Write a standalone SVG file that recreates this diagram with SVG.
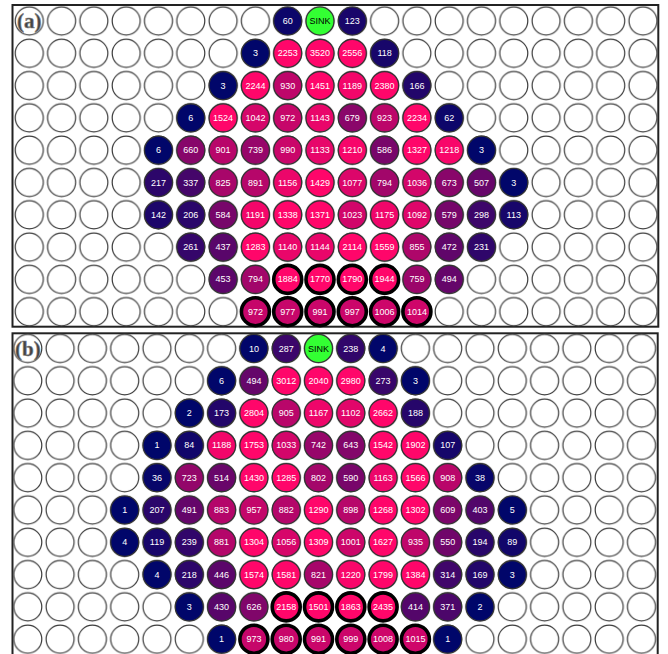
<svg xmlns="http://www.w3.org/2000/svg" xmlns:xlink="http://www.w3.org/1999/xlink" width="668" height="654" viewBox="0 0 668 654">
<style>
.frame{fill:#fff;stroke:#222;stroke-width:2}
.nodes circle{stroke:#333;stroke-width:1.2}
.nodes circle.k{stroke:#000;stroke-width:3.6}
.nodes text{fill:#fff;font-family:"Liberation Sans",Arial,sans-serif;font-size:9px;text-anchor:middle}
.nodes text.s{fill:#000}
.lbl{font-family:"Liberation Serif","Times New Roman",serif;font-weight:bold;font-size:21px;fill:#444;stroke:#888;stroke-width:0.6;text-anchor:middle}
</style>
<defs>
<pattern id="grid" patternUnits="userSpaceOnUse" x="-16.15" y="-16.15" width="32.3" height="32.3">
<circle cx="16.15" cy="16.15" r="14" fill="#fff" stroke="#3a3a3a" stroke-width="1.2"/>
</pattern>
</defs>
<rect class="frame" x="12.5" y="5" width="645.8" height="321.7"/>
<rect class="frame" x="12.5" y="333.3" width="645.2" height="330"/>
<g id="panel-a" transform="translate(29.3,21)">
<rect x="-16.15" y="-16.15" width="646" height="323" fill="url(#grid)"/>
<text class="lbl" x="0" y="7">(a)</text>
<g class="nodes">
<g id="a-r0c8"><circle cx="258.4" cy="0" r="14" fill="#0c066a"/><text x="258.4" y="3">60</text></g>
<g id="a-sink"><circle cx="290.7" cy="0" r="14" fill="#33ff33"/><text class="s" x="290.7" y="3">SINK</text></g>
<g id="a-r0c10"><circle cx="323" cy="0" r="14" fill="#19066a"/><text x="323" y="3">123</text></g>

<g id="a-r1c7"><circle cx="226.1" cy="32.3" r="14" fill="#01066a"/><text x="226.1" y="35.3">3</text></g>
<g id="a-r1c8"><circle cx="258.4" cy="32.3" r="14" fill="#ff066a"/><text x="258.4" y="35.3">2253</text></g>
<g id="a-r1c9"><circle cx="290.7" cy="32.3" r="14" fill="#ff066a"/><text x="290.7" y="35.3">3520</text></g>
<g id="a-r1c10"><circle cx="323" cy="32.3" r="14" fill="#ff066a"/><text x="323" y="35.3">2556</text></g>
<g id="a-r1c11"><circle cx="355.3" cy="32.3" r="14" fill="#18066a"/><text x="355.3" y="35.3">118</text></g>

<g id="a-r2c6"><circle cx="193.8" cy="64.6" r="14" fill="#01066a"/><text x="193.8" y="67.6">3</text></g>
<g id="a-r2c7"><circle cx="226.1" cy="64.6" r="14" fill="#ff066a"/><text x="226.1" y="67.6">2244</text></g>
<g id="a-r2c8"><circle cx="258.4" cy="64.6" r="14" fill="#be066a"/><text x="258.4" y="67.6">930</text></g>
<g id="a-r2c9"><circle cx="290.7" cy="64.6" r="14" fill="#ff066a"/><text x="290.7" y="67.6">1451</text></g>
<g id="a-r2c10"><circle cx="323" cy="64.6" r="14" fill="#f3066a"/><text x="323" y="67.6">1189</text></g>
<g id="a-r2c11"><circle cx="355.3" cy="64.6" r="14" fill="#ff066a"/><text x="355.3" y="67.6">2380</text></g>
<g id="a-r2c12"><circle cx="387.6" cy="64.6" r="14" fill="#22066a"/><text x="387.6" y="67.6">166</text></g>

<g id="a-r3c5"><circle cx="161.5" cy="96.9" r="14" fill="#01066a"/><text x="161.5" y="99.9">6</text></g>
<g id="a-r3c6"><circle cx="193.8" cy="96.9" r="14" fill="#ff066a"/><text x="193.8" y="99.9">1524</text></g>
<g id="a-r3c7"><circle cx="226.1" cy="96.9" r="14" fill="#d5066a"/><text x="226.1" y="99.9">1042</text></g>
<g id="a-r3c8"><circle cx="258.4" cy="96.9" r="14" fill="#c6066a"/><text x="258.4" y="99.9">972</text></g>
<g id="a-r3c9"><circle cx="290.7" cy="96.9" r="14" fill="#e9066a"/><text x="290.7" y="99.9">1143</text></g>
<g id="a-r3c10"><circle cx="323" cy="96.9" r="14" fill="#8a066a"/><text x="323" y="99.9">679</text></g>
<g id="a-r3c11"><circle cx="355.3" cy="96.9" r="14" fill="#bc066a"/><text x="355.3" y="99.9">923</text></g>
<g id="a-r3c12"><circle cx="387.6" cy="96.9" r="14" fill="#ff066a"/><text x="387.6" y="99.9">2234</text></g>
<g id="a-r3c13"><circle cx="419.9" cy="96.9" r="14" fill="#0d066a"/><text x="419.9" y="99.9">62</text></g>

<g id="a-r4c4"><circle cx="129.2" cy="129.2" r="14" fill="#01066a"/><text x="129.2" y="132.2">6</text></g>
<g id="a-r4c5"><circle cx="161.5" cy="129.2" r="14" fill="#87066a"/><text x="161.5" y="132.2">660</text></g>
<g id="a-r4c6"><circle cx="193.8" cy="129.2" r="14" fill="#b8066a"/><text x="193.8" y="132.2">901</text></g>
<g id="a-r4c7"><circle cx="226.1" cy="129.2" r="14" fill="#97066a"/><text x="226.1" y="132.2">739</text></g>
<g id="a-r4c8"><circle cx="258.4" cy="129.2" r="14" fill="#ca066a"/><text x="258.4" y="132.2">990</text></g>
<g id="a-r4c9"><circle cx="290.7" cy="129.2" r="14" fill="#e7066a"/><text x="290.7" y="132.2">1133</text></g>
<g id="a-r4c10"><circle cx="323" cy="129.2" r="14" fill="#f7066a"/><text x="323" y="132.2">1210</text></g>
<g id="a-r4c11"><circle cx="355.3" cy="129.2" r="14" fill="#78066a"/><text x="355.3" y="132.2">586</text></g>
<g id="a-r4c12"><circle cx="387.6" cy="129.2" r="14" fill="#ff066a"/><text x="387.6" y="132.2">1327</text></g>
<g id="a-r4c13"><circle cx="419.9" cy="129.2" r="14" fill="#f8066a"/><text x="419.9" y="132.2">1218</text></g>
<g id="a-r4c14"><circle cx="452.2" cy="129.2" r="14" fill="#01066a"/><text x="452.2" y="132.2">3</text></g>

<g id="a-r5c4"><circle cx="129.2" cy="161.5" r="14" fill="#2c066a"/><text x="129.2" y="164.5">217</text></g>
<g id="a-r5c5"><circle cx="161.5" cy="161.5" r="14" fill="#45066a"/><text x="161.5" y="164.5">337</text></g>
<g id="a-r5c6"><circle cx="193.8" cy="161.5" r="14" fill="#a8066a"/><text x="193.8" y="164.5">825</text></g>
<g id="a-r5c7"><circle cx="226.1" cy="161.5" r="14" fill="#b6066a"/><text x="226.1" y="164.5">891</text></g>
<g id="a-r5c8"><circle cx="258.4" cy="161.5" r="14" fill="#ec066a"/><text x="258.4" y="164.5">1156</text></g>
<g id="a-r5c9"><circle cx="290.7" cy="161.5" r="14" fill="#ff066a"/><text x="290.7" y="164.5">1429</text></g>
<g id="a-r5c10"><circle cx="323" cy="161.5" r="14" fill="#dc066a"/><text x="323" y="164.5">1077</text></g>
<g id="a-r5c11"><circle cx="355.3" cy="161.5" r="14" fill="#a2066a"/><text x="355.3" y="164.5">794</text></g>
<g id="a-r5c12"><circle cx="387.6" cy="161.5" r="14" fill="#d3066a"/><text x="387.6" y="164.5">1036</text></g>
<g id="a-r5c13"><circle cx="419.9" cy="161.5" r="14" fill="#89066a"/><text x="419.9" y="164.5">673</text></g>
<g id="a-r5c14"><circle cx="452.2" cy="161.5" r="14" fill="#67066a"/><text x="452.2" y="164.5">507</text></g>
<g id="a-r5c15"><circle cx="484.5" cy="161.5" r="14" fill="#01066a"/><text x="484.5" y="164.5">3</text></g>

<g id="a-r6c4"><circle cx="129.2" cy="193.8" r="14" fill="#1d066a"/><text x="129.2" y="196.8">142</text></g>
<g id="a-r6c5"><circle cx="161.5" cy="193.8" r="14" fill="#2a066a"/><text x="161.5" y="196.8">206</text></g>
<g id="a-r6c6"><circle cx="193.8" cy="193.8" r="14" fill="#77066a"/><text x="193.8" y="196.8">584</text></g>
<g id="a-r6c7"><circle cx="226.1" cy="193.8" r="14" fill="#f3066a"/><text x="226.1" y="196.8">1191</text></g>
<g id="a-r6c8"><circle cx="258.4" cy="193.8" r="14" fill="#ff066a"/><text x="258.4" y="196.8">1338</text></g>
<g id="a-r6c9"><circle cx="290.7" cy="193.8" r="14" fill="#ff066a"/><text x="290.7" y="196.8">1371</text></g>
<g id="a-r6c10"><circle cx="323" cy="193.8" r="14" fill="#d1066a"/><text x="323" y="196.8">1023</text></g>
<g id="a-r6c11"><circle cx="355.3" cy="193.8" r="14" fill="#f0066a"/><text x="355.3" y="196.8">1175</text></g>
<g id="a-r6c12"><circle cx="387.6" cy="193.8" r="14" fill="#df066a"/><text x="387.6" y="196.8">1092</text></g>
<g id="a-r6c13"><circle cx="419.9" cy="193.8" r="14" fill="#76066a"/><text x="419.9" y="196.8">579</text></g>
<g id="a-r6c14"><circle cx="452.2" cy="193.8" r="14" fill="#3d066a"/><text x="452.2" y="196.8">298</text></g>
<g id="a-r6c15"><circle cx="484.5" cy="193.8" r="14" fill="#17066a"/><text x="484.5" y="196.8">113</text></g>

<g id="a-r7c5"><circle cx="161.5" cy="226.1" r="14" fill="#35066a"/><text x="161.5" y="229.1">261</text></g>
<g id="a-r7c6"><circle cx="193.8" cy="226.1" r="14" fill="#59066a"/><text x="193.8" y="229.1">437</text></g>
<g id="a-r7c7"><circle cx="226.1" cy="226.1" r="14" fill="#ff066a"/><text x="226.1" y="229.1">1283</text></g>
<g id="a-r7c8"><circle cx="258.4" cy="226.1" r="14" fill="#e9066a"/><text x="258.4" y="229.1">1140</text></g>
<g id="a-r7c9"><circle cx="290.7" cy="226.1" r="14" fill="#e9066a"/><text x="290.7" y="229.1">1144</text></g>
<g id="a-r7c10"><circle cx="323" cy="226.1" r="14" fill="#ff066a"/><text x="323" y="229.1">2114</text></g>
<g id="a-r7c11"><circle cx="355.3" cy="226.1" r="14" fill="#ff066a"/><text x="355.3" y="229.1">1559</text></g>
<g id="a-r7c12"><circle cx="387.6" cy="226.1" r="14" fill="#ae066a"/><text x="387.6" y="229.1">855</text></g>
<g id="a-r7c13"><circle cx="419.9" cy="226.1" r="14" fill="#60066a"/><text x="419.9" y="229.1">472</text></g>
<g id="a-r7c14"><circle cx="452.2" cy="226.1" r="14" fill="#2f066a"/><text x="452.2" y="229.1">231</text></g>

<g id="a-r8c6"><circle cx="193.8" cy="258.4" r="14" fill="#5c066a"/><text x="193.8" y="261.4">453</text></g>
<g id="a-r8c7"><circle cx="226.1" cy="258.4" r="14" fill="#a2066a"/><text x="226.1" y="261.4">794</text></g>
<g id="a-r8c8"><circle class="k" cx="258.4" cy="258.4" r="14" fill="#ff066a"/><text x="258.4" y="261.4">1884</text></g>
<g id="a-r8c9"><circle class="k" cx="290.7" cy="258.4" r="14" fill="#ff066a"/><text x="290.7" y="261.4">1770</text></g>
<g id="a-r8c10"><circle class="k" cx="323" cy="258.4" r="14" fill="#ff066a"/><text x="323" y="261.4">1790</text></g>
<g id="a-r8c11"><circle class="k" cx="355.3" cy="258.4" r="14" fill="#ff066a"/><text x="355.3" y="261.4">1944</text></g>
<g id="a-r8c12"><circle cx="387.6" cy="258.4" r="14" fill="#9b066a"/><text x="387.6" y="261.4">759</text></g>
<g id="a-r8c13"><circle cx="419.9" cy="258.4" r="14" fill="#65066a"/><text x="419.9" y="261.4">494</text></g>

<g id="a-r9c7"><circle class="k" cx="226.1" cy="290.7" r="14" fill="#c6066a"/><text x="226.1" y="293.7">972</text></g>
<g id="a-r9c8"><circle class="k" cx="258.4" cy="290.7" r="14" fill="#c7066a"/><text x="258.4" y="293.7">977</text></g>
<g id="a-r9c9"><circle class="k" cx="290.7" cy="290.7" r="14" fill="#ca066a"/><text x="290.7" y="293.7">991</text></g>
<g id="a-r9c10"><circle class="k" cx="323" cy="290.7" r="14" fill="#cb066a"/><text x="323" y="293.7">997</text></g>
<g id="a-r9c11"><circle class="k" cx="355.3" cy="290.7" r="14" fill="#cd066a"/><text x="355.3" y="293.7">1006</text></g>
<g id="a-r9c12"><circle class="k" cx="387.6" cy="290.7" r="14" fill="#cf066a"/><text x="387.6" y="293.7">1014</text></g>
</g>
</g>

<g id="panel-b" transform="translate(27.8,348.5)">
<rect x="-16.15" y="-16.15" width="646" height="323" fill="url(#grid)"/>
<text class="lbl" x="0" y="7">(b)</text>
<g class="nodes">
<g id="b-r0c7"><circle cx="226.1" cy="0" r="14" fill="#02066a"/><text x="226.1" y="3">10</text></g>
<g id="b-r0c8"><circle cx="258.4" cy="0" r="14" fill="#3b066a"/><text x="258.4" y="3">287</text></g>
<g id="b-sink"><circle cx="290.7" cy="0" r="14" fill="#33ff33"/><text class="s" x="290.7" y="3">SINK</text></g>
<g id="b-r0c10"><circle cx="323" cy="0" r="14" fill="#31066a"/><text x="323" y="3">238</text></g>
<g id="b-r0c11"><circle cx="355.3" cy="0" r="14" fill="#01066a"/><text x="355.3" y="3">4</text></g>

<g id="b-r1c6"><circle cx="193.8" cy="32.3" r="14" fill="#01066a"/><text x="193.8" y="35.3">6</text></g>
<g id="b-r1c7"><circle cx="226.1" cy="32.3" r="14" fill="#65066a"/><text x="226.1" y="35.3">494</text></g>
<g id="b-r1c8"><circle cx="258.4" cy="32.3" r="14" fill="#ff066a"/><text x="258.4" y="35.3">3012</text></g>
<g id="b-r1c9"><circle cx="290.7" cy="32.3" r="14" fill="#ff066a"/><text x="290.7" y="35.3">2040</text></g>
<g id="b-r1c10"><circle cx="323" cy="32.3" r="14" fill="#ff066a"/><text x="323" y="35.3">2980</text></g>
<g id="b-r1c11"><circle cx="355.3" cy="32.3" r="14" fill="#38066a"/><text x="355.3" y="35.3">273</text></g>
<g id="b-r1c12"><circle cx="387.6" cy="32.3" r="14" fill="#01066a"/><text x="387.6" y="35.3">3</text></g>

<g id="b-r2c5"><circle cx="161.5" cy="64.6" r="14" fill="#00066a"/><text x="161.5" y="67.6">2</text></g>
<g id="b-r2c6"><circle cx="193.8" cy="64.6" r="14" fill="#23066a"/><text x="193.8" y="67.6">173</text></g>
<g id="b-r2c7"><circle cx="226.1" cy="64.6" r="14" fill="#ff066a"/><text x="226.1" y="67.6">2804</text></g>
<g id="b-r2c8"><circle cx="258.4" cy="64.6" r="14" fill="#b9066a"/><text x="258.4" y="67.6">905</text></g>
<g id="b-r2c9"><circle cx="290.7" cy="64.6" r="14" fill="#ee066a"/><text x="290.7" y="67.6">1167</text></g>
<g id="b-r2c10"><circle cx="323" cy="64.6" r="14" fill="#e1066a"/><text x="323" y="67.6">1102</text></g>
<g id="b-r2c11"><circle cx="355.3" cy="64.6" r="14" fill="#ff066a"/><text x="355.3" y="67.6">2662</text></g>
<g id="b-r2c12"><circle cx="387.6" cy="64.6" r="14" fill="#26066a"/><text x="387.6" y="67.6">188</text></g>

<g id="b-r3c4"><circle cx="129.2" cy="96.9" r="14" fill="#00066a"/><text x="129.2" y="99.9">1</text></g>
<g id="b-r3c5"><circle cx="161.5" cy="96.9" r="14" fill="#11066a"/><text x="161.5" y="99.9">84</text></g>
<g id="b-r3c6"><circle cx="193.8" cy="96.9" r="14" fill="#f2066a"/><text x="193.8" y="99.9">1188</text></g>
<g id="b-r3c7"><circle cx="226.1" cy="96.9" r="14" fill="#ff066a"/><text x="226.1" y="99.9">1753</text></g>
<g id="b-r3c8"><circle cx="258.4" cy="96.9" r="14" fill="#d3066a"/><text x="258.4" y="99.9">1033</text></g>
<g id="b-r3c9"><circle cx="290.7" cy="96.9" r="14" fill="#97066a"/><text x="290.7" y="99.9">742</text></g>
<g id="b-r3c10"><circle cx="323" cy="96.9" r="14" fill="#83066a"/><text x="323" y="99.9">643</text></g>
<g id="b-r3c11"><circle cx="355.3" cy="96.9" r="14" fill="#ff066a"/><text x="355.3" y="99.9">1542</text></g>
<g id="b-r3c12"><circle cx="387.6" cy="96.9" r="14" fill="#ff066a"/><text x="387.6" y="99.9">1902</text></g>
<g id="b-r3c13"><circle cx="419.9" cy="96.9" r="14" fill="#16066a"/><text x="419.9" y="99.9">107</text></g>

<g id="b-r4c4"><circle cx="129.2" cy="129.2" r="14" fill="#07066a"/><text x="129.2" y="132.2">36</text></g>
<g id="b-r4c5"><circle cx="161.5" cy="129.2" r="14" fill="#93066a"/><text x="161.5" y="132.2">723</text></g>
<g id="b-r4c6"><circle cx="193.8" cy="129.2" r="14" fill="#69066a"/><text x="193.8" y="132.2">514</text></g>
<g id="b-r4c7"><circle cx="226.1" cy="129.2" r="14" fill="#ff066a"/><text x="226.1" y="132.2">1430</text></g>
<g id="b-r4c8"><circle cx="258.4" cy="129.2" r="14" fill="#ff066a"/><text x="258.4" y="132.2">1285</text></g>
<g id="b-r4c9"><circle cx="290.7" cy="129.2" r="14" fill="#a4066a"/><text x="290.7" y="132.2">802</text></g>
<g id="b-r4c10"><circle cx="323" cy="129.2" r="14" fill="#78066a"/><text x="323" y="132.2">590</text></g>
<g id="b-r4c11"><circle cx="355.3" cy="129.2" r="14" fill="#ed066a"/><text x="355.3" y="132.2">1163</text></g>
<g id="b-r4c12"><circle cx="387.6" cy="129.2" r="14" fill="#ff066a"/><text x="387.6" y="132.2">1566</text></g>
<g id="b-r4c13"><circle cx="419.9" cy="129.2" r="14" fill="#b9066a"/><text x="419.9" y="132.2">908</text></g>
<g id="b-r4c14"><circle cx="452.2" cy="129.2" r="14" fill="#08066a"/><text x="452.2" y="132.2">38</text></g>

<g id="b-r5c3"><circle cx="96.9" cy="161.5" r="14" fill="#00066a"/><text x="96.9" y="164.5">1</text></g>
<g id="b-r5c4"><circle cx="129.2" cy="161.5" r="14" fill="#2a066a"/><text x="129.2" y="164.5">207</text></g>
<g id="b-r5c5"><circle cx="161.5" cy="161.5" r="14" fill="#64066a"/><text x="161.5" y="164.5">491</text></g>
<g id="b-r5c6"><circle cx="193.8" cy="161.5" r="14" fill="#b4066a"/><text x="193.8" y="164.5">883</text></g>
<g id="b-r5c7"><circle cx="226.1" cy="161.5" r="14" fill="#c3066a"/><text x="226.1" y="164.5">957</text></g>
<g id="b-r5c8"><circle cx="258.4" cy="161.5" r="14" fill="#b4066a"/><text x="258.4" y="164.5">882</text></g>
<g id="b-r5c9"><circle cx="290.7" cy="161.5" r="14" fill="#ff066a"/><text x="290.7" y="164.5">1290</text></g>
<g id="b-r5c10"><circle cx="323" cy="161.5" r="14" fill="#b7066a"/><text x="323" y="164.5">898</text></g>
<g id="b-r5c11"><circle cx="355.3" cy="161.5" r="14" fill="#ff066a"/><text x="355.3" y="164.5">1268</text></g>
<g id="b-r5c12"><circle cx="387.6" cy="161.5" r="14" fill="#ff066a"/><text x="387.6" y="164.5">1302</text></g>
<g id="b-r5c13"><circle cx="419.9" cy="161.5" r="14" fill="#7c066a"/><text x="419.9" y="164.5">609</text></g>
<g id="b-r5c14"><circle cx="452.2" cy="161.5" r="14" fill="#52066a"/><text x="452.2" y="164.5">403</text></g>
<g id="b-r5c15"><circle cx="484.5" cy="161.5" r="14" fill="#01066a"/><text x="484.5" y="164.5">5</text></g>

<g id="b-r6c3"><circle cx="96.9" cy="193.8" r="14" fill="#01066a"/><text x="96.9" y="196.8">4</text></g>
<g id="b-r6c4"><circle cx="129.2" cy="193.8" r="14" fill="#18066a"/><text x="129.2" y="196.8">119</text></g>
<g id="b-r6c5"><circle cx="161.5" cy="193.8" r="14" fill="#31066a"/><text x="161.5" y="196.8">239</text></g>
<g id="b-r6c6"><circle cx="193.8" cy="193.8" r="14" fill="#b4066a"/><text x="193.8" y="196.8">881</text></g>
<g id="b-r6c7"><circle cx="226.1" cy="193.8" r="14" fill="#ff066a"/><text x="226.1" y="196.8">1304</text></g>
<g id="b-r6c8"><circle cx="258.4" cy="193.8" r="14" fill="#d7066a"/><text x="258.4" y="196.8">1056</text></g>
<g id="b-r6c9"><circle cx="290.7" cy="193.8" r="14" fill="#ff066a"/><text x="290.7" y="196.8">1309</text></g>
<g id="b-r6c10"><circle cx="323" cy="193.8" r="14" fill="#cc066a"/><text x="323" y="196.8">1001</text></g>
<g id="b-r6c11"><circle cx="355.3" cy="193.8" r="14" fill="#ff066a"/><text x="355.3" y="196.8">1627</text></g>
<g id="b-r6c12"><circle cx="387.6" cy="193.8" r="14" fill="#bf066a"/><text x="387.6" y="196.8">935</text></g>
<g id="b-r6c13"><circle cx="419.9" cy="193.8" r="14" fill="#70066a"/><text x="419.9" y="196.8">550</text></g>
<g id="b-r6c14"><circle cx="452.2" cy="193.8" r="14" fill="#28066a"/><text x="452.2" y="196.8">194</text></g>
<g id="b-r6c15"><circle cx="484.5" cy="193.8" r="14" fill="#12066a"/><text x="484.5" y="196.8">89</text></g>

<g id="b-r7c4"><circle cx="129.2" cy="226.1" r="14" fill="#01066a"/><text x="129.2" y="229.1">4</text></g>
<g id="b-r7c5"><circle cx="161.5" cy="226.1" r="14" fill="#2c066a"/><text x="161.5" y="229.1">218</text></g>
<g id="b-r7c6"><circle cx="193.8" cy="226.1" r="14" fill="#5b066a"/><text x="193.8" y="229.1">446</text></g>
<g id="b-r7c7"><circle cx="226.1" cy="226.1" r="14" fill="#ff066a"/><text x="226.1" y="229.1">1574</text></g>
<g id="b-r7c8"><circle cx="258.4" cy="226.1" r="14" fill="#ff066a"/><text x="258.4" y="229.1">1581</text></g>
<g id="b-r7c9"><circle cx="290.7" cy="226.1" r="14" fill="#a7066a"/><text x="290.7" y="229.1">821</text></g>
<g id="b-r7c10"><circle cx="323" cy="226.1" r="14" fill="#f9066a"/><text x="323" y="229.1">1220</text></g>
<g id="b-r7c11"><circle cx="355.3" cy="226.1" r="14" fill="#ff066a"/><text x="355.3" y="229.1">1799</text></g>
<g id="b-r7c12"><circle cx="387.6" cy="226.1" r="14" fill="#ff066a"/><text x="387.6" y="229.1">1384</text></g>
<g id="b-r7c13"><circle cx="419.9" cy="226.1" r="14" fill="#40066a"/><text x="419.9" y="229.1">314</text></g>
<g id="b-r7c14"><circle cx="452.2" cy="226.1" r="14" fill="#22066a"/><text x="452.2" y="229.1">169</text></g>
<g id="b-r7c15"><circle cx="484.5" cy="226.1" r="14" fill="#01066a"/><text x="484.5" y="229.1">3</text></g>

<g id="b-r8c5"><circle cx="161.5" cy="258.4" r="14" fill="#01066a"/><text x="161.5" y="261.4">3</text></g>
<g id="b-r8c6"><circle cx="193.8" cy="258.4" r="14" fill="#58066a"/><text x="193.8" y="261.4">430</text></g>
<g id="b-r8c7"><circle cx="226.1" cy="258.4" r="14" fill="#80066a"/><text x="226.1" y="261.4">626</text></g>
<g id="b-r8c8"><circle class="k" cx="258.4" cy="258.4" r="14" fill="#ff066a"/><text x="258.4" y="261.4">2158</text></g>
<g id="b-r8c9"><circle class="k" cx="290.7" cy="258.4" r="14" fill="#ff066a"/><text x="290.7" y="261.4">1501</text></g>
<g id="b-r8c10"><circle class="k" cx="323" cy="258.4" r="14" fill="#ff066a"/><text x="323" y="261.4">1863</text></g>
<g id="b-r8c11"><circle class="k" cx="355.3" cy="258.4" r="14" fill="#ff066a"/><text x="355.3" y="261.4">2435</text></g>
<g id="b-r8c12"><circle cx="387.6" cy="258.4" r="14" fill="#54066a"/><text x="387.6" y="261.4">414</text></g>
<g id="b-r8c13"><circle cx="419.9" cy="258.4" r="14" fill="#4c066a"/><text x="419.9" y="261.4">371</text></g>
<g id="b-r8c14"><circle cx="452.2" cy="258.4" r="14" fill="#00066a"/><text x="452.2" y="261.4">2</text></g>

<g id="b-r9c6"><circle cx="193.8" cy="290.7" r="14" fill="#00066a"/><text x="193.8" y="293.7">1</text></g>
<g id="b-r9c7"><circle class="k" cx="226.1" cy="290.7" r="14" fill="#c6066a"/><text x="226.1" y="293.7">973</text></g>
<g id="b-r9c8"><circle class="k" cx="258.4" cy="290.7" r="14" fill="#c8066a"/><text x="258.4" y="293.7">980</text></g>
<g id="b-r9c9"><circle class="k" cx="290.7" cy="290.7" r="14" fill="#ca066a"/><text x="290.7" y="293.7">991</text></g>
<g id="b-r9c10"><circle class="k" cx="323" cy="290.7" r="14" fill="#cc066a"/><text x="323" y="293.7">999</text></g>
<g id="b-r9c11"><circle class="k" cx="355.3" cy="290.7" r="14" fill="#ce066a"/><text x="355.3" y="293.7">1008</text></g>
<g id="b-r9c12"><circle class="k" cx="387.6" cy="290.7" r="14" fill="#cf066a"/><text x="387.6" y="293.7">1015</text></g>
<g id="b-r9c13"><circle cx="419.9" cy="290.7" r="14" fill="#00066a"/><text x="419.9" y="293.7">1</text></g>
</g>
</g>
</svg>
